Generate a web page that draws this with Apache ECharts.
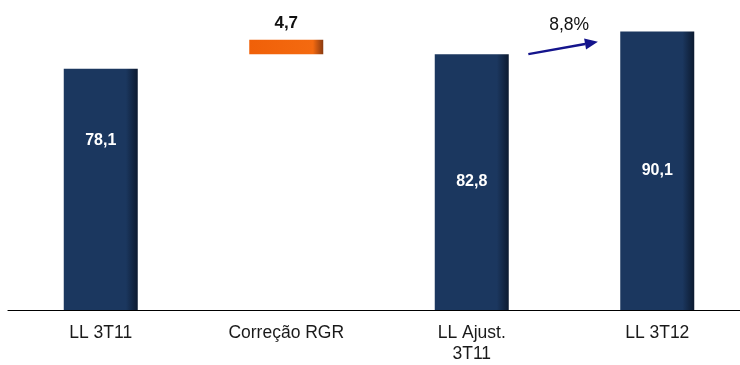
<!DOCTYPE html>
<html>
<head>
<meta charset="utf-8">
<style>
  html, body { margin: 0; padding: 0; background: #ffffff; }
  #chart { width: 740px; height: 365px; }
</style>
<script src="https://cdn.jsdelivr.net/npm/echarts@6/dist/echarts.min.js"></script>
</head>
<body>
<div id="chart"></div>
<script>
// Lucro líquido: 3T11 -> ajuste RGR -> 3T11 ajustado -> 3T12
const categories = ['LL 3T11', 'Correção RGR', 'LL Ajust.\n3T11', 'LL 3T12'];
const totals     = [78.1, null, 82.8, 90.1];   // navy columns
const adjustBase = [null, 82.8, null, null];   // invisible lift under the adjustment
const adjustment = [null, 4.7, null, null];    // orange adjustment block
const growthText = '8,8%';

const FONT = '"Liberation Sans", Arial, sans-serif';
const fmt = v => v.toFixed(1).replace('.', ',');

const navy = {
  type: 'linear', x: 0, y: 0, x2: 1, y2: 0,
  colorStops: [
    { offset: 0, color: '#1b375f' },
    { offset: 0.84, color: '#1b375f' },
    { offset: 1, color: '#0c1a30' }
  ]
};
const orange = {
  type: 'linear', x: 0, y: 0, x2: 1, y2: 0,
  colorStops: [
    { offset: 0, color: '#f06008' },
    { offset: 0.86, color: '#f46a10' },
    { offset: 1, color: '#8a3a10' }
  ]
};

const totalData = totals.map((v, i) => {
  if (v == null) return '-';
  const item = { value: v };
  // first column carries its label higher up
  if (i === 0) item.label = { position: ['50%', '30%'], align: 'center', verticalAlign: 'middle' };
  return item;
});

const chart = echarts.init(document.getElementById('chart'));
chart.setOption({
  animation: false,
  grid: { left: 8, width: 742, top: 1, bottom: 55, containLabel: false, outerBoundsMode: 'none' },
  xAxis: {
    type: 'category',
    data: categories,
    axisLine: { lineStyle: { color: '#000000', width: 1.2 } },
    axisTick: { show: false },
    axisLabel: {
      color: '#1a1a1a', fontFamily: FONT, fontSize: 17.5,
      margin: 13, lineHeight: 21
    }
  },
  yAxis: { type: 'value', min: 0, max: 100, show: false, splitLine: { show: false } },
  series: [
    {
      type: 'bar', stack: 'wf', barWidth: 74,
      data: adjustBase.map(v => v == null ? '-' : v),
      itemStyle: { color: 'transparent' },
      silent: true
    },
    {
      type: 'bar', stack: 'wf', barWidth: 74,
      data: adjustment.map(v => v == null ? '-' : v),
      itemStyle: { color: orange },
      label: {
        show: true, position: 'top', distance: 8,
        color: '#111111', fontFamily: FONT, fontSize: 17, fontWeight: 'bold',
        formatter: p => fmt(p.value)
      }
    },
    {
      type: 'bar', stack: 'wf', barWidth: 74,
      data: totalData,
      itemStyle: { color: navy },
      label: {
        show: true, position: 'inside',
        color: '#ffffff', fontFamily: FONT, fontSize: 16, fontWeight: 'bold',
        formatter: p => fmt(p.value)
      }
    }
  ]
});

// Growth arrow between the adjusted 3T11 column and the 3T12 column
function drawArrow() {
  const c3 = chart.convertToPixel({ xAxisIndex: 0 }, categories[2]);
  const c4 = chart.convertToPixel({ xAxisIndex: 0 }, categories[3]);
  const band = c4 - c3;
  const y0 = chart.convertToPixel({ yAxisIndex: 0 }, totals[2]);
  const y1 = chart.convertToPixel({ yAxisIndex: 0 }, totals[2] + (totals[3] - totals[2]) * 0.55);
  const x0 = c3 + band * 0.305;
  const x1 = c4 - band * 0.32;
  const ang = Math.atan2(y1 - y0, x1 - x0);
  const L = 13, W = 5.5;
  const bx = x1 - L * Math.cos(ang), by = y1 - L * Math.sin(ang);
  const nx = -Math.sin(ang), ny = Math.cos(ang);
  chart.setOption({
    graphic: [
      {
        type: 'line',
        shape: { x1: x0, y1: y0, x2: bx, y2: by },
        style: { stroke: '#14148c', lineWidth: 2.4 }
      },
      {
        type: 'polygon',
        shape: { points: [[x1, y1], [bx + nx * W, by + ny * W], [bx - nx * W, by - ny * W]] },
        style: { fill: '#14148c' }
      },
      {
        type: 'text',
        x: (x0 + x1) / 2 + 6, y: y1 - 17,
        style: {
          text: growthText, fill: '#111111', font: '17.5px ' + FONT,
          textAlign: 'center', textVerticalAlign: 'middle'
        }
      }
    ]
  });
}
drawArrow();
</script>
</body>
</html>
